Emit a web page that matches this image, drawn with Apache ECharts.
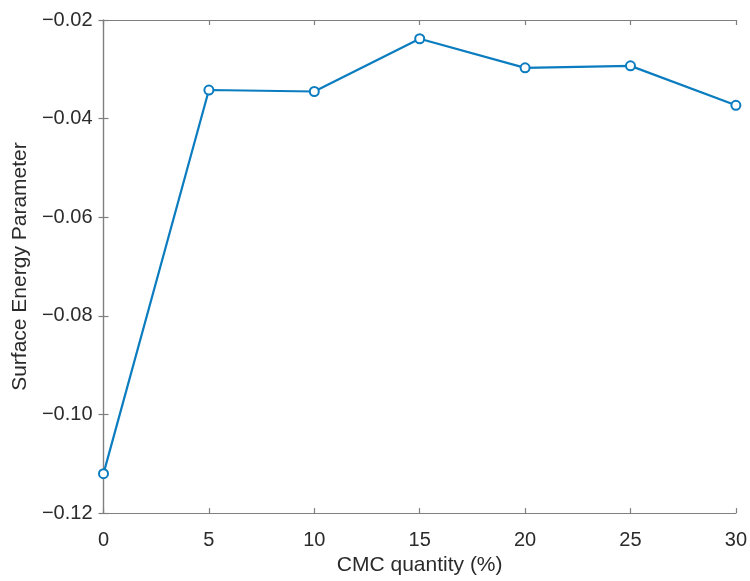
<!DOCTYPE html>
<html>
<head>
<meta charset="utf-8">
<script src="https://cdn.jsdelivr.net/npm/echarts@6/dist/echarts.min.js"></script>
<style>html,body{margin:0;padding:0;background:#fff;}#c{width:750px;height:581px;}</style>
</head>
<body>
<div id="c"></div>
<script>
const xValues = [0, 5, 10, 15, 20, 25, 30];
const yValues = [-0.112, -0.0342, -0.0345, -0.0238, -0.0297, -0.0293, -0.0373];
const xTitle = 'CMC quantity (%)';
const yTitle = 'Surface Energy Parameter';

const chart = echarts.init(document.getElementById('c'), null, {renderer: 'canvas'});
const axisCol = '#7f7f7f';
const textCol = '#2b2b2b';
const font = 'Liberation Sans, Arial, sans-serif';
const fmtY = v => '\u2212' + Math.abs(v).toFixed(2);
const common = {
  axisLine: {show: true, lineStyle: {color: axisCol, width: 1.2}},
  axisTick: {show: true, inside: true, length: 5, lineStyle: {color: axisCol, width: 1.2}},
  splitLine: {show: false}
};
chart.setOption({
  animation: false,
  backgroundColor: '#ffffff',
  grid: {left: 103.5, right: 13.5, top: 20, bottom: 60, containLabel: false},
  xAxis: [
    Object.assign({type: 'value', min: 0, max: 30, interval: 5, position: 'bottom',
      name: xTitle, nameLocation: 'middle', nameGap: 41,
      nameTextStyle: {fontFamily: font, fontSize: 21, color: textCol},
      axisLabel: {fontFamily: font, fontSize: 20, color: textCol, margin: 17}}, common),
    Object.assign({type: 'value', min: 0, max: 30, interval: 5, position: 'top',
      axisLabel: {show: false}}, common)
  ],
  yAxis: [
    Object.assign({type: 'value', min: -0.12, max: -0.02, interval: 0.02, position: 'left',
      name: yTitle, nameLocation: 'middle', nameGap: 72,
      nameTextStyle: {fontFamily: font, fontSize: 21, color: textCol},
      axisLabel: {fontFamily: font, fontSize: 20, color: textCol, margin: 11, formatter: fmtY}}, common),
    Object.assign({type: 'value', min: -0.12, max: -0.02, interval: 0.02, position: 'right',
      axisLabel: {show: false}}, common)
  ],
  series: [{
    type: 'line',
    data: xValues.map((x, i) => [x, yValues[i]]),
    symbol: 'circle',
    symbolSize: 9,
    showAllSymbol: true,
    clip: false,
    lineStyle: {color: '#0a7cbf', width: 2.2},
    itemStyle: {color: '#ffffff', borderColor: '#0a7cbf', borderWidth: 2}
  }]
});
</script>
</body>
</html>
